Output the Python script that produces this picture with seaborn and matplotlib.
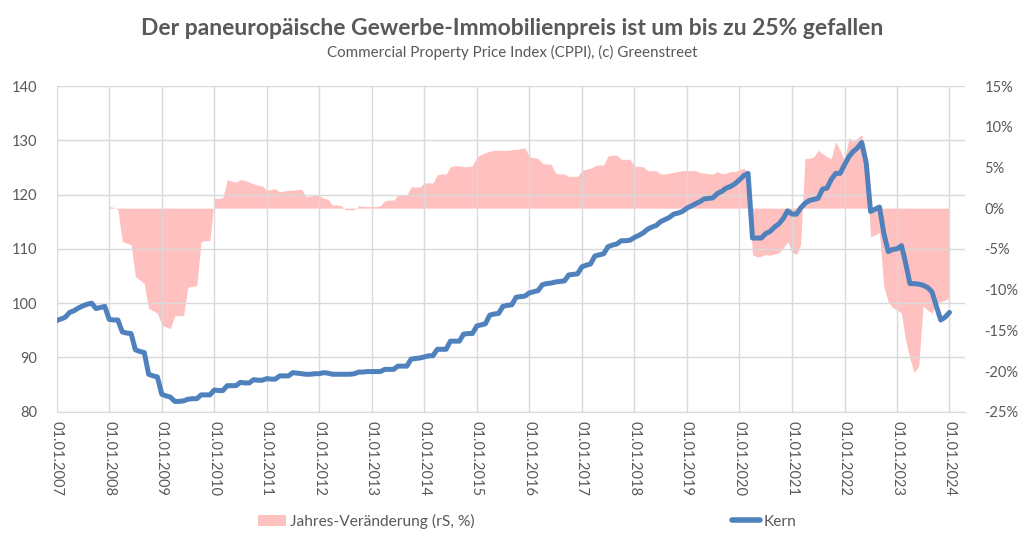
import pandas as pd
import numpy as np
import matplotlib
matplotlib.use("Agg")
import matplotlib.pyplot as plt
import matplotlib.dates as mdates
from matplotlib.ticker import FuncFormatter
from matplotlib.patches import Patch
from matplotlib.lines import Line2D
import seaborn as sns

# monthly index values (Kern), Jan 2007 .. Jan 2024
kern = [
    96.8, 97.1, 97.4, 98.3, 98.6, 99.1, 99.5, 99.8, 100.0, 99.0, 99.2, 99.4,          # 2007
    97.0, 96.9, 96.9, 94.7, 94.5, 94.4, 91.4, 91.1, 90.9, 86.9, 86.6, 86.4,            # 2008
    83.2, 82.9, 82.7, 81.9, 81.9, 82.0, 82.3, 82.4, 82.4, 83.1, 83.1, 83.1,            # 2009
    84.0, 83.9, 83.9, 84.8, 84.8, 84.8, 85.4, 85.3, 85.3, 85.9, 85.8, 85.8,            # 2010
    86.1, 86.0, 86.0, 86.6, 86.6, 86.6, 87.2, 87.1, 87.0, 86.9, 86.9, 87.0,            # 2011
    87.0, 87.2, 87.1, 86.9, 86.9, 86.9, 86.9, 86.9, 87.0, 87.3, 87.3, 87.4,            # 2012
    87.4, 87.4, 87.4, 87.8, 87.8, 87.8, 88.4, 88.4, 88.4, 89.7, 89.8, 89.9,            # 2013
    90.1, 90.3, 90.3, 91.5, 91.5, 91.5, 93.0, 93.0, 93.0, 94.3, 94.4, 94.4,            # 2014
    95.8, 96.0, 96.2, 97.8, 98.0, 98.1, 99.4, 99.6, 99.7, 101.1, 101.2, 101.3,         # 2015
    101.9, 102.1, 102.3, 103.4, 103.6, 103.7, 103.9, 104.0, 104.1, 105.2, 105.3, 105.4,  # 2016
    106.7, 107.0, 107.2, 108.7, 108.9, 109.1, 110.4, 110.7, 110.9, 111.5, 111.5, 111.6,  # 2017
    112.1, 112.5, 112.9, 113.6, 114.0, 114.3, 115.0, 115.4, 115.8, 116.4, 116.6, 116.9,  # 2018
    117.5, 117.9, 118.3, 118.7, 119.2, 119.3, 119.4, 120.2, 120.6, 121.2, 121.5, 122.0,  # 2019
    122.7, 123.5, 123.9, 112.0, 112.0, 112.0, 112.8, 113.2, 114.0, 114.6, 115.6, 117.0,  # 2020
    116.4, 116.4, 117.5, 118.4, 118.9, 119.1, 119.3, 121.0, 121.2, 122.8, 123.9, 123.9,  # 2021
    125.5, 127.0, 127.9, 128.6, 129.6, 125.8, 116.9, 117.3, 117.7, 112.9, 109.5, 109.9,  # 2022
    110.0, 110.6, 107.5, 103.6, 103.6, 103.5, 103.3, 102.9, 102.1, 99.5, 96.9, 97.4,     # 2023
    98.3,                                                                               # 2024
]

# year-on-year change in %, Jan 2008 .. Jan 2024
jahres = [
    0.2, 0.1, -0.2, -4.1, -4.3, -4.5, -8.4, -8.8, -9.3, -12.3, -12.6, -12.9,      # 2008
    -14.4, -14.6, -14.8, -13.2, -13.2, -13.2, -9.7, -9.6, -9.5, -4.1, -4.0, -4.0, # 2009
    1.2, 1.2, 1.3, 3.5, 3.3, 3.2, 3.5, 3.4, 3.2, 3.0, 2.8, 2.7,                   # 2010
    2.2, 2.3, 2.4, 2.0, 2.1, 2.2, 2.2, 2.3, 2.3, 1.4, 1.5, 1.6,                   # 2011
    1.5, 1.2, 1.1, 0.4, 0.4, 0.3, -0.2, -0.2, -0.2, 0.3, 0.2, 0.2,                # 2012
    0.2, 0.2, 0.3, 0.9, 1.0, 1.0, 1.6, 1.6, 1.6, 2.6, 2.6, 2.6,                   # 2013
    3.1, 3.1, 3.1, 4.1, 4.2, 4.2, 5.1, 5.2, 5.2, 5.1, 5.1, 5.2,                   # 2014
    6.3, 6.6, 6.8, 7.0, 7.1, 7.1, 7.1, 7.1, 7.2, 7.2, 7.3, 7.4,                   # 2015
    6.3, 6.2, 6.1, 5.5, 5.4, 5.4, 4.3, 4.2, 4.2, 3.9, 3.9, 3.9,                   # 2016
    4.6, 4.8, 4.9, 5.2, 5.3, 5.3, 6.4, 6.5, 6.5, 6.0, 6.0, 6.0,                   # 2017
    5.2, 5.1, 5.1, 4.6, 4.6, 4.6, 4.2, 4.2, 4.3, 4.4, 4.5, 4.6,                   # 2018
    4.6, 4.6, 4.6, 4.4, 4.3, 4.2, 4.2, 4.5, 4.2, 4.3, 4.5, 4.5,                   # 2019
    4.7, 4.9, 4.4, -5.7, -6.0, -5.9, -5.7, -5.8, -5.6, -5.5, -4.9, -4.1,          # 2020
    -5.4, -5.7, -4.5, 6.1, 6.1, 6.3, 7.1, 6.7, 6.3, 6.1, 8.2, 7.1,                # 2021
    5.9, 8.7, 8.2, 8.6, 9.0, 5.5, -3.5, -3.3, -3.0, -9.6, -11.5, -12.2,           # 2022
    -12.5, -12.9, -16.2, -18.5, -20.2, -19.4, -12.0, -12.5, -12.9, -11.7, -11.5, -11.3,  # 2023
    -11.1,                                                                        # 2024
]

kern_start = "2007-01-01"
jahres_start = "2008-01-01"

title = "Der paneuropäische Gewerbe-Immobilienpreis ist um bis zu 25% gefallen"
subtitle = "Commercial Property Price Index (CPPI), (c) Greenstreet"

df_kern = pd.DataFrame({"datum": pd.date_range(kern_start, periods=len(kern), freq="MS"),
                        "wert": kern})
df_jahr = pd.DataFrame({"datum": pd.date_range(jahres_start, periods=len(jahres), freq="MS"),
                        "wert": jahres})

sns.set_style("white")
plt.rcParams['font.family'] = ['Lato', 'DejaVu Sans']
grey = "#595959"
grid_c = "#D9D9D9"

fig = plt.figure(figsize=(10.24, 5.56), dpi=100)
ax = fig.add_axes([0.0554, 0.2595, 0.887, 0.5858])
ax2 = ax.twinx()

# area on the right axis, line on the left axis drawn on top
ax2.fill_between(df_jahr["datum"], 0, df_jahr["wert"], color="#FF9E9E", alpha=0.65,
                 linewidth=0)
sns.lineplot(data=df_kern, x="datum", y="wert", ax=ax, color="#4F81BD", linewidth=3.6)

ax.set_zorder(ax2.get_zorder() + 1)
ax.patch.set_visible(False)

ax.set_ylim(80, 140)
ax.set_yticks(range(80, 141, 10))
ax2.set_ylim(-25, 15)
ax2.set_yticks(range(-25, 16, 5))
ax2.yaxis.set_major_formatter(FuncFormatter(lambda v, p: f"{v:.0f}%"))

ax.set_xlim(pd.Timestamp("2007-01-01"), pd.Timestamp("2024-04-18"))
ax.xaxis.set_major_locator(mdates.YearLocator())
ax.xaxis.set_major_formatter(mdates.DateFormatter("%d.%m.%Y"))

ax.grid(True, axis="both", color=grid_c, linewidth=1)
ax2.grid(False)
for a in (ax, ax2):
    for s in a.spines.values():
        s.set_visible(False)
ax.spines["bottom"].set_visible(True)
ax.spines["bottom"].set_color(grid_c)

ax.tick_params(axis="x", length=5, color=grid_c, labelsize=10.5, labelcolor=grey,
               labelrotation=-90, pad=2)
ax.tick_params(axis="y", length=0, labelsize=10.5, labelcolor=grey, pad=14)
ax2.tick_params(axis="y", length=0, labelsize=10.5, labelcolor=grey, pad=14)
for lbl in ax.get_xticklabels():
    lbl.set_verticalalignment("top")
ax.set_xlabel("")
ax.set_ylabel("")

fig.text(0.5, 0.948, title, ha="center", va="center", fontsize=16.5, fontweight="bold",
         color=grey)
fig.text(0.5, 0.906, subtitle, ha="center", va="center", fontsize=10.9, color=grey)

handles = [Patch(facecolor="#FF9E9E", alpha=0.65, edgecolor="none"),
           Line2D([0], [0], color="#4F81BD", linewidth=4)]
fig.legend(handles, ["Jahres-Veränderung (rS, %)", "Kern"], loc="center",
           bbox_to_anchor=(0.515, 0.063), ncol=2, frameon=False, fontsize=11.2,
           labelcolor=grey, handlelength=1.8, handletextpad=0.2, columnspacing=16.6)

fig.savefig("out.png", dpi=100)
